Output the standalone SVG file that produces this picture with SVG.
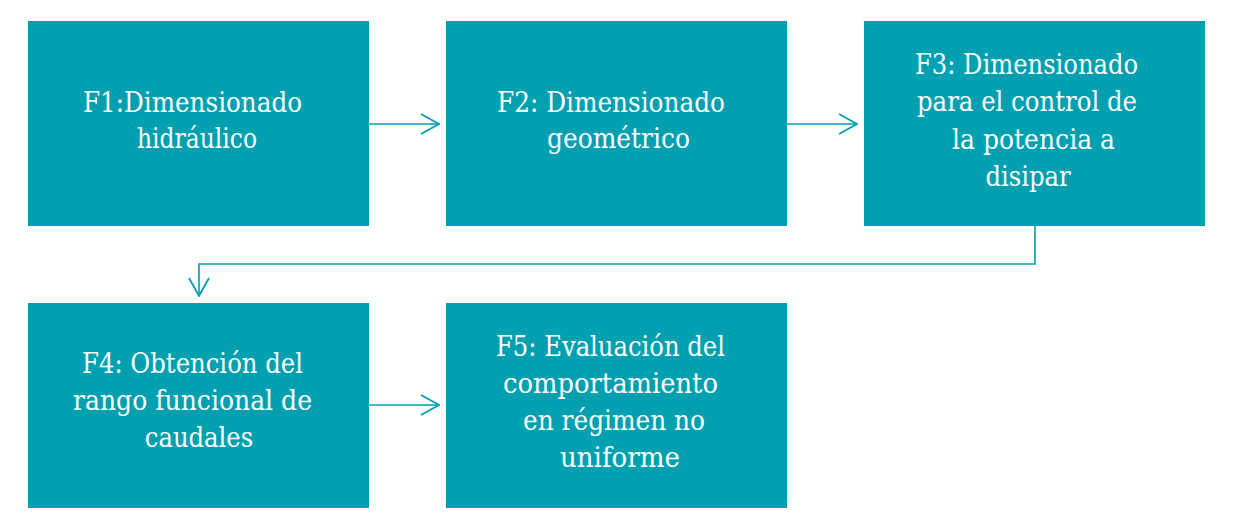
<svg xmlns="http://www.w3.org/2000/svg" width="1235" height="522" viewBox="0 0 1235 522">
<style>
.box{fill:#00a0b0}
.t{font-family:"DejaVu Serif Condensed","DejaVu Serif","Liberation Serif",serif;font-stretch:condensed;font-size:27px;fill:#ffffff}
.m{text-anchor:middle}
.c{fill:none;stroke:#00a0b0;stroke-width:1.6}
</style>
<defs>
<marker id="ah" viewBox="0 0 20 22" refX="19" refY="11" markerWidth="20" markerHeight="22" markerUnits="userSpaceOnUse" orient="auto">
<path d="M1,1 L19,11 L1,21" fill="none" stroke="#00a0b0" stroke-width="1.8"/>
</marker>
</defs>
<rect width="1235" height="522" fill="#ffffff"/>
<g id="F1">
<rect class="box" x="28" y="21" width="341" height="205"/>
<text class="t" x="83" y="112" textLength="219" lengthAdjust="spacingAndGlyphs">F1:Dimensionado</text>
<text class="t" x="137" y="148" textLength="120" lengthAdjust="spacingAndGlyphs">hidráulico</text>
</g>
<g id="F2">
<rect class="box" x="446" y="21" width="341" height="205"/>
<text class="t" x="497" y="112" textLength="228" lengthAdjust="spacingAndGlyphs">F2: Dimensionado</text>
<text class="t" x="547" y="148" textLength="143" lengthAdjust="spacingAndGlyphs">geométrico</text>
</g>
<g id="F3">
<rect class="box" x="864" y="21" width="341" height="205"/>
<text class="t" x="915" y="74" textLength="223" lengthAdjust="spacingAndGlyphs">F3: Dimensionado</text>
<text class="t" x="917" y="111" textLength="220" lengthAdjust="spacingAndGlyphs">para el control de</text>
<text class="t" x="952" y="149" textLength="163" lengthAdjust="spacingAndGlyphs">la potencia a</text>
<text class="t m" x="1028" y="186">disipar</text>
</g>
<g id="F4">
<rect class="box" x="28" y="303" width="341" height="205"/>
<text class="t" x="82" y="373" textLength="221" lengthAdjust="spacingAndGlyphs">F4: Obtención del</text>
<text class="t" x="73" y="410" textLength="239" lengthAdjust="spacingAndGlyphs">rango funcional de</text>
<text class="t m" x="199" y="447">caudales</text>
</g>
<g id="F5">
<rect class="box" x="446" y="303" width="341" height="205"/>
<text class="t" x="496" y="356" textLength="229" lengthAdjust="spacingAndGlyphs">F5: Evaluación del</text>
<text class="t" x="503" y="393" textLength="215" lengthAdjust="spacingAndGlyphs">comportamiento</text>
<text class="t" x="523" y="430" textLength="182" lengthAdjust="spacingAndGlyphs">en régimen no</text>
<text class="t" x="560" y="467" textLength="120" lengthAdjust="spacingAndGlyphs">uniforme</text>
</g>
<g id="connectors">
<path class="c" d="M369,124 L439,124" marker-end="url(#ah)"/>
<path class="c" d="M787,124 L857,124" marker-end="url(#ah)"/>
<path class="c" d="M1035,226 L1035,264 L199,264 L199,296" marker-end="url(#ah)"/>
<path class="c" d="M369,405 L439,405" marker-end="url(#ah)"/>
</g>
</svg>
